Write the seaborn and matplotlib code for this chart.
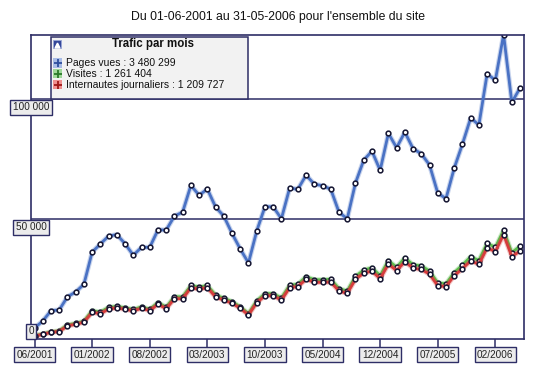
import numpy as np
import pandas as pd
import seaborn as sns
import matplotlib.pyplot as plt
import matplotlib.patheffects as pe
import matplotlib.transforms as mtransforms
from matplotlib.patches import Rectangle
from matplotlib.lines import Line2D

# Monthly traffic, 06/2001 -> 05/2006
months = pd.period_range("2001-06", "2006-05", freq="M")
pages_vues = [4600, 7500, 11800, 12100, 17600, 19600, 22800, 36200, 39600, 42900,
              43500, 39700, 34900, 38200, 38200, 45500, 45400, 51200, 52900, 64000,
              59900, 62500, 55000, 51200, 44000, 37500, 31700, 45000, 55100, 55100,
              50100, 62900, 62400, 68300, 64500, 63900, 62400, 52800, 50100, 65000,
              74500, 78300, 70300, 85700, 79700, 86200, 79300, 77200, 72500, 60800,
              58500, 71200, 81200, 92100, 89200, 110500, 107800, 126800, 98600, 104600]
visites = [1400, 2100, 3000, 3400, 5900, 6500, 7400, 11800, 11200, 13200,
           13600, 13000, 12300, 13400, 12400, 15200, 13300, 17600, 17600, 22300,
           21600, 22300, 18300, 17000, 15600, 13400, 10600, 15900, 18900, 18900,
           17100, 22400, 22800, 26000, 24700, 24700, 24900, 21000, 20000, 26100,
           28700, 29700, 26400, 32700, 29900, 33800, 30900, 30500, 28300, 23400,
           23000, 27700, 30800, 34300, 32700, 39900, 38200, 45300, 36000, 38700]
internautes = [1250, 1900, 2800, 3100, 5500, 6100, 7000, 11100, 10500, 12500,
               12900, 12400, 11700, 12800, 11800, 14500, 12600, 16800, 16800, 21400,
               20700, 21400, 17500, 16200, 14900, 12800, 10000, 15100, 18000, 18000,
               16200, 21400, 21800, 24900, 23600, 23600, 23700, 20000, 19000, 24900,
               27400, 28300, 25100, 31200, 28500, 32200, 29500, 29000, 27000, 22200,
               21800, 26400, 29300, 32600, 31100, 38000, 36400, 43500, 34300, 36700]
tick_labels = ["06/2001", "01/2002", "08/2002", "03/2003", "10/2003",
               "05/2004", "12/2004", "07/2005", "02/2006"]
y_ticks = [0, 50000, 100000]
y_tick_labels = ["0", "50 000", "100 000"]
legend_labels = ["Pages vues : 3 480 299", "Visites : 1 261 404",
                 "Internautes journaliers : 1 209 727"]

month_labels = [f"{m.month:02d}/{m.year}" for m in months]
df = pd.DataFrame({"idx": np.arange(len(months)), "pages": pages_vues,
                   "visites": visites, "internautes": internautes})

sns.set_style("white")
plt.rcParams["font.family"] = ["Liberation Sans", "DejaVu Sans"]

navy = "#2e2e66"
blue, green, red = "#4a72c4", "#5cbf4e", "#d63c3c"
box_fc = "#ececec"

W, H = 556, 373
fig = plt.figure(figsize=(W / 100, H / 100), dpi=100)
ax = fig.add_axes([31 / W, 1 - 339 / H, (524 - 31) / W, (339 - 35) / H])

def fx(x):
    return x / W

def fy(y):
    return 1 - y / H

for col, color in [("visites", green), ("internautes", red), ("pages", blue)]:
    sns.lineplot(data=df, x="idx", y=col, ax=ax, color=color, lw=2.0,
                 path_effects=[pe.Stroke(linewidth=3.6, foreground=color, alpha=0.3),
                               pe.Normal()])
    sns.lineplot(data=df, x="idx", y=col, ax=ax, color=color, lw=0,
                 marker="o", markersize=3.4, markerfacecolor="white",
                 markeredgecolor="#141430", markeredgewidth=1.1)

ax.set_xlim(-0.43, 59.48)
ax.set_ylim(0, 126667)
ax.set_xlabel("")
ax.set_ylabel("")
for s in ax.spines.values():
    s.set_color(navy)
    s.set_linewidth(1.2)

for v in y_ticks[1:]:
    ax.axhline(v, color=navy, lw=1.1, zorder=1)

# x ticks with boxed labels; tick marks drawn as short lines under the axis
tick_pos = [month_labels.index(t) for t in tick_labels]
ax.set_xticks(tick_pos, tick_labels)
ax.tick_params(axis="x", length=0, pad=7.6, labelsize=7.2, labelcolor="#222222")
for lbl in ax.get_xticklabels():
    lbl.set_bbox(dict(boxstyle="square,pad=0.25", fc=box_fc, ec=navy, lw=1))
xtrans = mtransforms.blended_transform_factory(ax.transData, ax.transAxes)
tick_h = 8 / (339 - 35)
for p in tick_pos:
    ax.plot([p, p], [0, -tick_h], transform=xtrans, color=navy, lw=1.1,
            clip_on=False, solid_capstyle="butt")

# y labels in boxes centred on the left axis
ax.set_yticks([])
trans = mtransforms.blended_transform_factory(ax.transAxes, ax.transData)
for v, lab in zip(y_ticks, y_tick_labels):
    off = 2 if v == 0 else -2.2
    ax.annotate(lab, xy=(0, v), xycoords=trans, xytext=(0, off),
                textcoords="offset points", ha="center",
                va="bottom" if v == 0 else "top", fontsize=7.2, color="#222222",
                bbox=dict(boxstyle="square,pad=0.25", fc=box_fc, ec=navy, lw=1),
                annotation_clip=False, zorder=5)

fig.text(0.5, fy(17), "Du 01-06-2001 au 31-05-2006 pour l'ensemble du site",
         ha="center", va="center", fontsize=8.8, color="#111111")

# custom legend box
fig.add_artist(Rectangle((fx(51), fy(99)), fx(248 - 51), (99 - 37) / H,
                         transform=fig.transFigure, fc="#f2f2f2", ec=navy, lw=1.1, zorder=6))
fig.add_artist(Rectangle((fx(53), fy(48)), fx(8), 8 / H, transform=fig.transFigure,
                         fc="#34479a", ec="#9aa6d6", lw=0.6, zorder=7))
fig.add_artist(Line2D([fx(57)], [fy(44.5)], transform=fig.transFigure, marker="^",
                      markersize=3.5, color="white", mec="white", lw=0, zorder=8))
fig.text(fx(153), fy(44), "Trafic par mois", ha="center", va="center",
         fontsize=8.3, fontweight="bold", color="#111111", zorder=8)

icon_fc = ["#a9bce6", "#9fd89a", "#f09090"]
icon_pc = ["#2f4f9f", "#2a7a2a", "#a01818"]
for k, (lab, fc, pc) in enumerate(zip(legend_labels, icon_fc, icon_pc)):
    yc = 63 + k * 10.8
    fig.add_artist(Rectangle((fx(53), fy(yc + 4.5)), fx(9), 9 / H,
                             transform=fig.transFigure, fc=fc, ec="none", zorder=7))
    fig.add_artist(Line2D([fx(57.5)], [fy(yc)], transform=fig.transFigure, marker="+",
                          markersize=6, mew=1.3, color=pc, lw=0, zorder=8))
    fig.text(fx(66), fy(yc), lab, ha="left", va="center", fontsize=7.5,
             color="#111111", zorder=8)

fig.savefig("out.png", dpi=100)
plt.close(fig)
